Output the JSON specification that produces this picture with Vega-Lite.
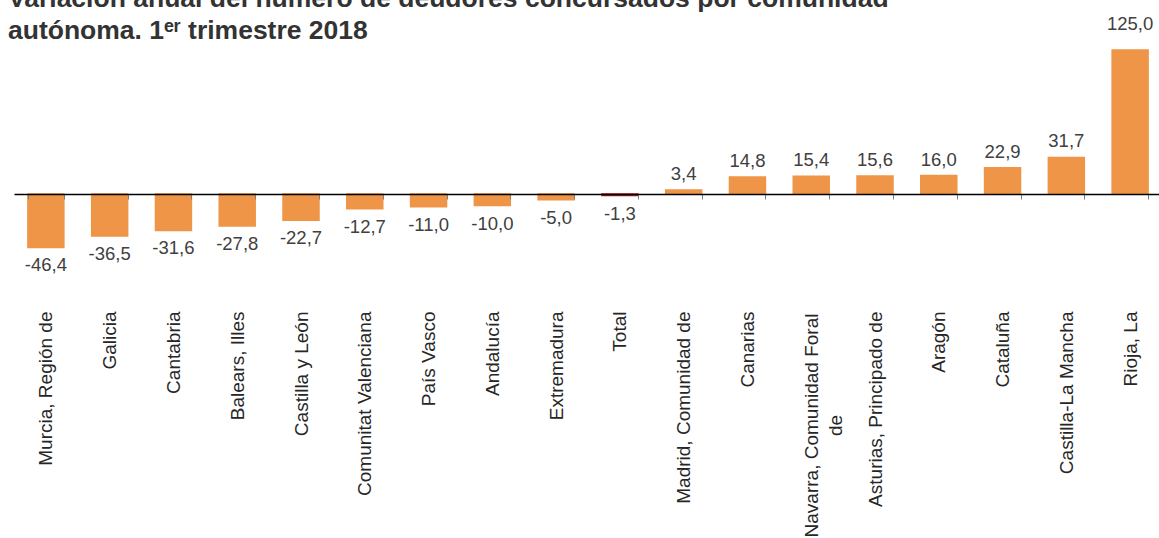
{
  "$schema": "https://vega.github.io/schema/vega-lite/v6.json",
  "autosize": "none",
  "padding": {"left": 14, "top": 50, "right": -3, "bottom": 238},
  "width": 1148,
  "height": 250,
  "title": {
    "text": ["Variación anual del número de deudores concursados por comunidad", "autónoma. 1ᵉʳ trimestre 2018"],
    "anchor": "start",
    "frame": "group",
    "font": "Liberation Sans",
    "fontSize": 26.5,
    "fontWeight": "bold",
    "color": "#333333",
    "lineHeight": 32,
    "dx": -6,
    "offset": -29
  },
  "config": {
    "view": {"stroke": null},
    "locale": {"number": {"decimal": ",", "thousands": ".", "grouping": [3], "currency": ["", " €"], "minus": "-"}},
    "font": "Liberation Sans"
  },
  "data": {
    "values": [
      {"region": "Murcia, Región de", "value": -46.4},
      {"region": "Galicia", "value": -36.5},
      {"region": "Cantabria", "value": -31.6},
      {"region": "Balears, Illes", "value": -27.8},
      {"region": "Castilla y León", "value": -22.7},
      {"region": "Comunitat Valenciana", "value": -12.7},
      {"region": "País Vasco", "value": -11.0},
      {"region": "Andalucía", "value": -10.0},
      {"region": "Extremadura", "value": -5.0},
      {"region": "Total", "value": -1.3},
      {"region": "Madrid, Comunidad de", "value": 3.4},
      {"region": "Canarias", "value": 14.8},
      {"region": "Navarra, Comunidad Foral de", "value": 15.4},
      {"region": "Asturias, Principado de", "value": 15.6},
      {"region": "Aragón", "value": 16.0},
      {"region": "Cataluña", "value": 22.9},
      {"region": "Castilla-La Mancha", "value": 31.7},
      {"region": "Rioja, La", "value": 125.0}
    ]
  },
  "encoding": {
    "x": {
      "field": "region",
      "type": "nominal",
      "sort": null,
      "scale": {"paddingInner": 0.436, "paddingOuter": 0.218},
      "axis": {
        "title": null,
        "orient": "bottom",
        "offset": -106,
        "zindex": 1,
        "domainColor": "#000000",
        "domainWidth": 1.3,
        "tickBand": "extent",
        "tickSize": 5,
        "tickColor": "#7f7f7f",
        "labelAngle": -90,
        "labelFont": "Liberation Sans",
        "labelFontSize": 19,
        "labelColor": "#262626",
        "labelLimit": 0,
        "labelOverlap": false,
        "labelLineHeight": 24,
        "labelAlign": {"condition": {"test": "datum.value === 'Navarra, Comunidad Foral de'", "value": "center"}, "value": "right"},
        "labelPadding": {"condition": {"test": "datum.value === 'Navarra, Comunidad Foral de'", "value": 226}, "value": 112},
        "labelExpr": "datum.value === 'Navarra, Comunidad Foral de' ? ['Navarra, Comunidad Foral', 'de'] : datum.label"
      }
    },
    "y": {
      "field": "value",
      "type": "quantitative",
      "scale": {"domain": [-92, 125], "nice": false, "zero": false},
      "axis": null
    }
  },
  "layer": [
    {
      "mark": {"type": "bar", "strokeWidth": 1.5},
      "encoding": {
        "color": {
          "condition": {"test": "datum.region === 'Total'", "value": "#A21A1A"},
          "value": "#EE9547"
        },
        "stroke": {
          "condition": {"test": "datum.region === 'Total'", "value": "#A21A1A"},
          "value": "#EE9547"
        }
      }
    },
    {
      "transform": [{"filter": "datum.value >= 0 && datum.value < 100"}],
      "mark": {"type": "text", "baseline": "alphabetic", "dy": -10, "fontSize": 18.5, "color": "#404040", "font": "Liberation Sans"},
      "encoding": {"text": {"field": "value", "type": "quantitative", "format": ".1f"}}
    },
    {
      "transform": [{"filter": "datum.value >= 100"}],
      "mark": {"type": "text", "baseline": "alphabetic", "dy": -20, "fontSize": 18.5, "color": "#404040", "font": "Liberation Sans"},
      "encoding": {"text": {"field": "value", "type": "quantitative", "format": ".1f"}}
    },
    {
      "transform": [{"filter": "datum.value < 0"}],
      "mark": {"type": "text", "baseline": "top", "dy": 9, "fontSize": 18.5, "color": "#404040", "font": "Liberation Sans"},
      "encoding": {"text": {"field": "value", "type": "quantitative", "format": ".1f"}}
    }
  ]
}
